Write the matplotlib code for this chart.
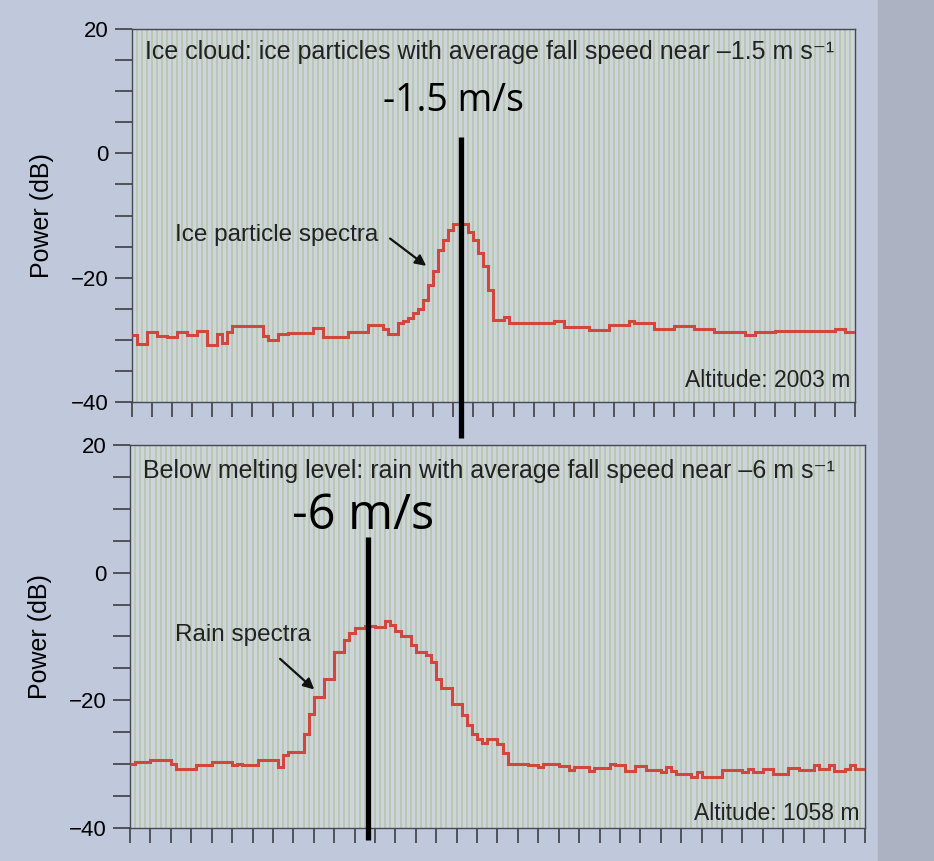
import numpy as np
import matplotlib
matplotlib.use("Agg")
import matplotlib.pyplot as plt
from matplotlib.patches import Rectangle

# === Data: Doppler power spectra (dB), one value per velocity bin ===
ice_power = [
    -29.2, -30.6, -30.6, -28.8, -28.8, -29.4, -29.4, -29.6, -29.6, -28.8,
    -28.8, -29.3, -29.3, -28.6, -28.6, -30.8, -30.8, -29.1, -30.5, -28.8,
    -27.7, -27.7, -27.7, -27.7, -27.7, -27.7, -29.4, -30.0, -30.0, -29.0,
    -29.0, -28.9, -28.9, -28.9, -28.9, -28.9, -28.1, -28.1, -29.5, -29.5,
    -29.5, -29.5, -29.5, -28.8, -28.8, -28.8, -28.8, -27.6, -27.6, -27.6,
    -28.2, -29.0, -29.0, -27.3, -27.0, -26.5, -25.7, -25.1, -23.6, -21.2,
    -19.0, -15.5, -13.9, -12.3, -11.3, -11.3, -11.3, -12.6, -13.9, -16.1,
    -18.2, -22.0, -26.8, -26.8, -26.3, -27.3, -27.3, -27.3, -27.3, -27.3,
    -27.3, -27.3, -27.3, -27.3, -27.0, -27.0, -27.9, -27.9, -27.9, -27.9,
    -27.9, -28.4, -28.4, -28.4, -28.4, -27.6, -27.6, -27.6, -27.6, -26.9,
    -27.3, -27.3, -27.3, -27.3, -28.2, -28.2, -28.2, -28.2, -27.7, -27.7,
    -27.7, -27.7, -28.2, -28.2, -28.2, -28.2, -28.7, -28.7, -28.7, -28.7,
    -28.7, -28.7, -29.2, -29.2, -28.7, -28.7, -28.7, -28.7, -28.5, -28.5,
    -28.5, -28.5, -28.5, -28.5, -28.5, -28.5, -28.5, -28.5, -28.5, -28.5,
    -28.2, -28.2, -28.8, -28.8,
]

rain_power = [
    -29.9, -29.6, -29.6, -29.6, -29.3, -29.3, -29.3, -29.3, -30.0, -30.7,
    -30.7, -30.7, -30.7, -30.2, -30.2, -30.2, -29.7, -29.7, -29.7, -29.7,
    -30.2, -29.9, -30.2, -30.2, -30.2, -29.3, -29.3, -29.3, -29.3, -30.5,
    -28.5, -28.1, -28.1, -28.1, -25.2, -22.1, -19.5, -19.5, -16.7, -16.7,
    -12.4, -12.4, -10.6, -9.5, -8.7, -8.7, -8.4, -8.4, -8.5, -8.5,
    -7.5, -8.2, -9.1, -9.9, -9.9, -11.4, -12.4, -12.4, -12.9, -14.0,
    -16.6, -18.0, -18.0, -20.5, -20.5, -22.3, -23.9, -25.2, -26.0, -26.7,
    -26.0, -26.0, -26.8, -28.3, -29.9, -29.9, -29.9, -29.9, -30.2, -30.2,
    -30.4, -29.9, -29.9, -29.9, -30.3, -30.3, -30.9, -30.4, -30.4, -30.4,
    -31.1, -30.6, -30.6, -30.6, -29.9, -30.2, -30.2, -31.1, -31.1, -30.3,
    -30.3, -30.9, -30.9, -30.9, -31.3, -30.4, -31.0, -31.5, -31.5, -31.5,
    -32.0, -31.2, -32.0, -32.0, -32.0, -32.0, -30.9, -30.9, -30.9, -30.9,
    -31.3, -30.7, -31.2, -31.2, -30.7, -30.7, -31.5, -31.5, -31.5, -30.6,
    -30.6, -30.9, -30.9, -30.9, -30.2, -30.7, -30.7, -30.2, -31.1, -31.1,
    -30.7, -30.2, -30.7, -30.7,
]

panel_titles = [
    "Ice cloud: ice particles with average fall speed near \u20131.5 m s\u207b\u00b9",
    "Below melting level: rain with average fall speed near \u20136 m s\u207b\u00b9",
]
spectra_labels = ["Ice particle spectra", "Rain spectra"]
altitudes = ["Altitude: 2003 m", "Altitude: 1058 m"]
speed_labels = ["-1.5 m/s", "-6 m/s"]
speed_bins = [65.6, 46.6]          # where the hand-drawn speed lines sit
yticks_major = [20, 0, -20, -40]

# === Style ===
PAGE = "#c0c8dc"
PANEL = "#cdd5dc"
STRIPE = "#b8c4a4"
RED = "#d2473b"
SANS = ["Liberation Sans", "DejaVu Sans"]

fig = plt.figure(figsize=(9.34, 8.61), dpi=100, facecolor=PAGE)
# darker page edge on the right of the photo
fig.patches.append(Rectangle((0.94, 0), 0.06, 1, transform=fig.transFigure,
                             color="#adb2c2", zorder=-1))

ax_top = fig.add_axes([0.1413, 0.5331, 0.7741, 0.4332])
ax_bot = fig.add_axes([0.1392, 0.0383, 0.7869, 0.4449])

# axes, data, label pos, arrow tail, arrow head, marker line y-range, speed label pos, speed label size
panels = [
    (ax_top, ice_power, (28.8, -13.1), (51.4, -13.7), (58.6, -18.1),
     (-45.8, 2.6), (64.0, 8.4), 27),
    (ax_bot, rain_power, (22.1, -9.8), (29.4, -13.5), (36.1, -18.3),
     (-41.9, 5.6), (45.6, 8.9), 35),
]

for i, (ax, power, lab_xy, tail, head, line_y, sp_xy, sp_size) in enumerate(panels):
    n = len(power)
    ax.set_facecolor(PANEL)
    ax.set_xlim(0, n)
    ax.set_ylim(-40, 20)

    # fine vertical rules printed in the book figure
    ax.vlines(np.arange(1, n), -40, 20, color=STRIPE, linewidth=1.1, zorder=0)

    ax.stairs(power, np.arange(n + 1), baseline=None, color=RED,
              linewidth=2.2, zorder=3)

    ax.set_yticks(yticks_major)
    ax.set_yticks(np.arange(-40, 21, 5), minor=True)
    ax.set_xticks(np.arange(0, n + 1, 4))
    ax.set_xticklabels([])
    ax.tick_params(axis="y", which="both", direction="out", length=12,
                   width=1.1, color="#333333", labelsize=16, pad=5)
    ax.tick_params(axis="x", direction="out", length=11, width=1.1,
                   color="#333333")
    for lab in ax.get_yticklabels():
        lab.set_family(SANS)
    for sp in ax.spines.values():
        sp.set_color("#444a55")
        sp.set_linewidth(1.0)

    ax.set_ylabel("Power (dB)", family=SANS, fontsize=18, labelpad=12)

    ax.text(2.6, 16.3 if i == 0 else 15.9, panel_titles[i], family=SANS,
            fontsize=18, color="#222222", va="center", ha="left")
    ax.text(n - 1.0, -36.6 if i == 0 else -37.8, altitudes[i], family=SANS,
            fontsize=16.5, color="#222222", ha="right", va="center")

    ax.text(lab_xy[0], lab_xy[1], spectra_labels[i], family=SANS,
            fontsize=17.5, color="#222222", ha="center", va="center")
    ax.annotate("", xy=head, xytext=tail,
                arrowprops=dict(arrowstyle="-|>", color="#111111",
                                lw=1.6, shrinkA=0, shrinkB=0,
                                mutation_scale=16))

    # hand-added speed marker and label
    ax.plot([speed_bins[i], speed_bins[i]], line_y, color="black",
            linewidth=3.8, clip_on=False, zorder=5, solid_capstyle="butt")
    ax.text(sp_xy[0], sp_xy[1], speed_labels[i],
            family=["Open Sans", "DejaVu Sans"], fontsize=sp_size,
            color="black", ha="center", va="center", zorder=6)

fig.savefig("out.png", dpi=100, facecolor=PAGE)
